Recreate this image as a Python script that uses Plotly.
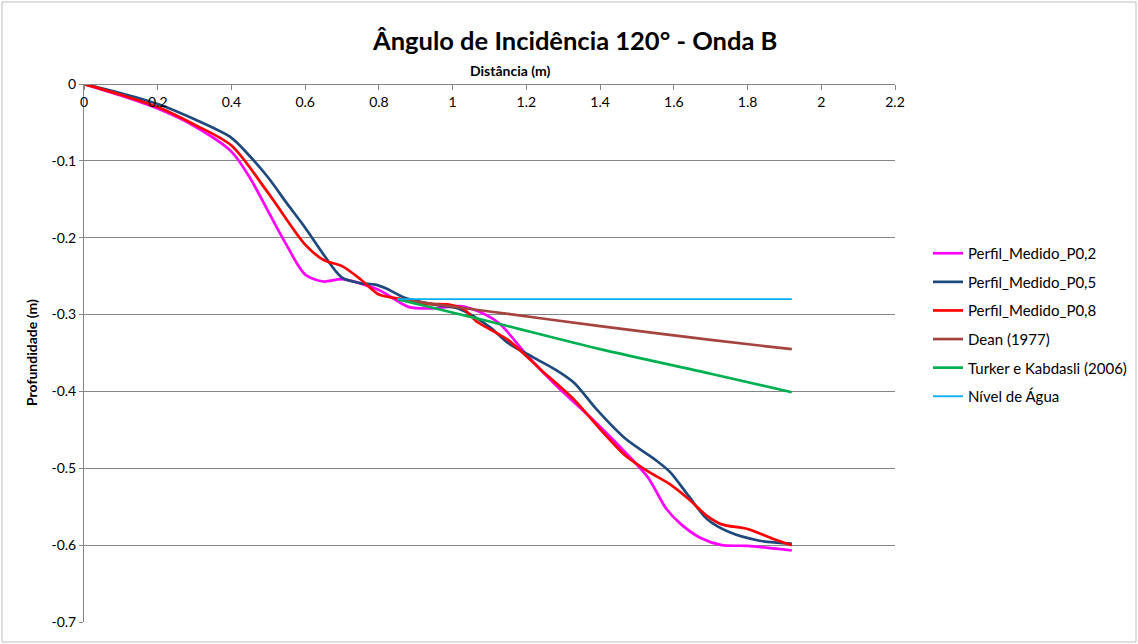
import plotly.graph_objects as go

# ---- data ----
p02_x = [0, 0.1, 0.2, 0.3, 0.4, 0.45, 0.5, 0.55, 0.6, 0.65, 0.7, 0.8, 0.88, 0.95, 1.02, 1.08, 1.13, 1.2, 1.28, 1.37, 1.46, 1.53, 1.58, 1.62, 1.67, 1.73, 1.8, 1.92]
p02_y = [0, -0.015, -0.032, -0.055, -0.088, -0.122, -0.166, -0.21, -0.248, -0.257, -0.254, -0.268, -0.29, -0.292, -0.289, -0.298, -0.313, -0.352, -0.392, -0.432, -0.475, -0.512, -0.553, -0.573, -0.59, -0.600, -0.601, -0.607]

p05_x = [0, 0.1, 0.2, 0.3, 0.4, 0.45, 0.5, 0.55, 0.6, 0.65, 0.7, 0.75, 0.79, 0.82, 0.87, 0.95, 1.02, 1.1, 1.15, 1.22, 1.28, 1.33, 1.39, 1.47, 1.55, 1.59, 1.64, 1.69, 1.75, 1.83, 1.92]
p05_y = [0, -0.012, -0.026, -0.046, -0.07, -0.094, -0.122, -0.155, -0.187, -0.222, -0.252, -0.259, -0.261, -0.266, -0.278, -0.287, -0.293, -0.316, -0.337, -0.356, -0.372, -0.389, -0.423, -0.462, -0.489, -0.505, -0.536, -0.566, -0.583, -0.594, -0.598]

p08_x = [0, 0.1, 0.2, 0.3, 0.4, 0.5, 0.6, 0.65, 0.7, 0.75, 0.8, 0.85, 0.93, 0.99, 1.03, 1.065, 1.15, 1.24, 1.33, 1.4, 1.47, 1.53, 1.59, 1.64, 1.69, 1.73, 1.8, 1.87, 1.92]
p08_y = [0, -0.014, -0.03, -0.053, -0.08, -0.142, -0.209, -0.229, -0.237, -0.254, -0.274, -0.279, -0.286, -0.287, -0.293, -0.309, -0.333, -0.372, -0.411, -0.449, -0.484, -0.504, -0.521, -0.540, -0.562, -0.573, -0.579, -0.592, -0.600]

dean_x = [0.85, 1.1, 1.4, 1.7, 1.92]
dean_y = [-0.28, -0.296, -0.315, -0.333, -0.345]

turker_x = [0.85, 1.1, 1.4, 1.7, 1.92]
turker_y = [-0.28, -0.309, -0.345, -0.377, -0.401]

agua_x = [0.85, 1.92]
agua_y = [-0.28, -0.28]

x_tickvals = [0, 0.2, 0.4, 0.6, 0.8, 1, 1.2, 1.4, 1.6, 1.8, 2, 2.2]
x_ticktext = ["0", "0.2", "0.4", "0.6", "0.8", "1", "1.2", "1.4", "1.6", "1.8", "2", "2.2"]
y_tickvals = [0, -0.1, -0.2, -0.3, -0.4, -0.5, -0.6, -0.7]
y_ticktext = ["0", "-0.1", "-0.2", "-0.3", "-0.4", "-0.5", "-0.6", "-0.7"]

FONT = "Lato"

series = [
    ("Perfil_Medido_P0,2", p02_x, p02_y, "#FF00FF", 2.7, "spline"),
    ("Perfil_Medido_P0,5", p05_x, p05_y, "#1F497D", 2.7, "spline"),
    ("Perfil_Medido_P0,8", p08_x, p08_y, "#FF0000", 2.7, "spline"),
    ("Dean (1977)", dean_x, dean_y, "#A5443F", 2.7, "spline"),
    ("Turker e Kabdasli (2006)", turker_x, turker_y, "#00B050", 2.7, "spline"),
    ("Nível de Água", agua_x, agua_y, "#00B0F0", 1.8, "linear"),
]

fig = go.Figure()
for i, (name, xs, ys, col, w, shape) in enumerate(series):
    fig.add_trace(go.Scatter(
        x=xs, y=ys, name=name, mode="lines",
        line=dict(color=col, width=w, shape=shape, smoothing=0.8),
        legendgroup=f"g{i}",
    ))

L, R, T, B = 84, 243, 84, 22
W, H = 1138, 644
pw = W - L - R
ph = H - T - B

fig.update_layout(
    width=W, height=H,
    margin=dict(l=L, r=R, t=T, b=B, autoexpand=False),
    paper_bgcolor="white", plot_bgcolor="white",
    font=dict(family=FONT, size=14, color="#000000"),
    showlegend=True,
    legend=dict(
        xref="container", yref="container",
        x=928 / W, y=1 - 237 / H,
        xanchor="left", yanchor="top",
        font=dict(family=FONT, size=15, color="#000000"),
        tracegroupgap=6.1,
        bgcolor="rgba(0,0,0,0)",
    ),
    xaxis=dict(
        range=[0, 2.2], side="bottom", anchor="free", position=1,
        tickvals=x_tickvals, ticktext=x_ticktext,
        ticks="outside", ticklen=5, tickcolor="#868686",
        showline=True, linecolor="#868686", linewidth=1,
        showgrid=False, zeroline=False, automargin=False,
        tickfont=dict(family=FONT, size=14, color="#000000"),
    ),
    yaxis=dict(
        range=[-0.7, 0],
        tickvals=y_tickvals, ticktext=y_ticktext,
        ticks="outside", ticklen=4, tickcolor="#868686",
        showline=True, linecolor="#868686", linewidth=1,
        showgrid=True, gridcolor="#868686", gridwidth=1,
        zeroline=False, automargin=False,
        tickfont=dict(family=FONT, size=14, color="#000000"),
    ),
    shapes=[
        dict(type="rect", xref="paper", yref="paper",
             x0=-(L - 2) / pw, x1=1 + (R - 2) / pw,
             y0=-(B - 2) / ph, y1=1 + (T - 2) / ph,
             line=dict(color="#BFBFBF", width=1), fillcolor="rgba(0,0,0,0)",
             layer="below"),
    ],
    annotations=[
        dict(text="<b>Ângulo de Incidência 120° - Onda B</b>",
             xref="paper", yref="paper",
             x=(574 - L) / pw, y=1 + (T - 40) / ph,
             xanchor="center", yanchor="middle", showarrow=False,
             font=dict(family=FONT, size=25.5, color="#000000")),
        dict(text="<b>Distância (m)</b>",
             xref="paper", yref="paper",
             x=(510 - L) / pw, y=1 + (T - 71) / ph,
             xanchor="center", yanchor="middle", showarrow=False,
             font=dict(family=FONT, size=14, color="#000000")),
        dict(text="<b>Profundidade (m)</b>",
             xref="paper", yref="paper",
             x=(31 - L) / pw, y=0.5,
             xanchor="center", yanchor="middle", showarrow=False,
             textangle=-90,
             font=dict(family=FONT, size=14, color="#000000")),
    ],
)

fig.write_html("out.html", config={"displayModeBar": False},
               post_script="document.body.style.margin='0px';")
